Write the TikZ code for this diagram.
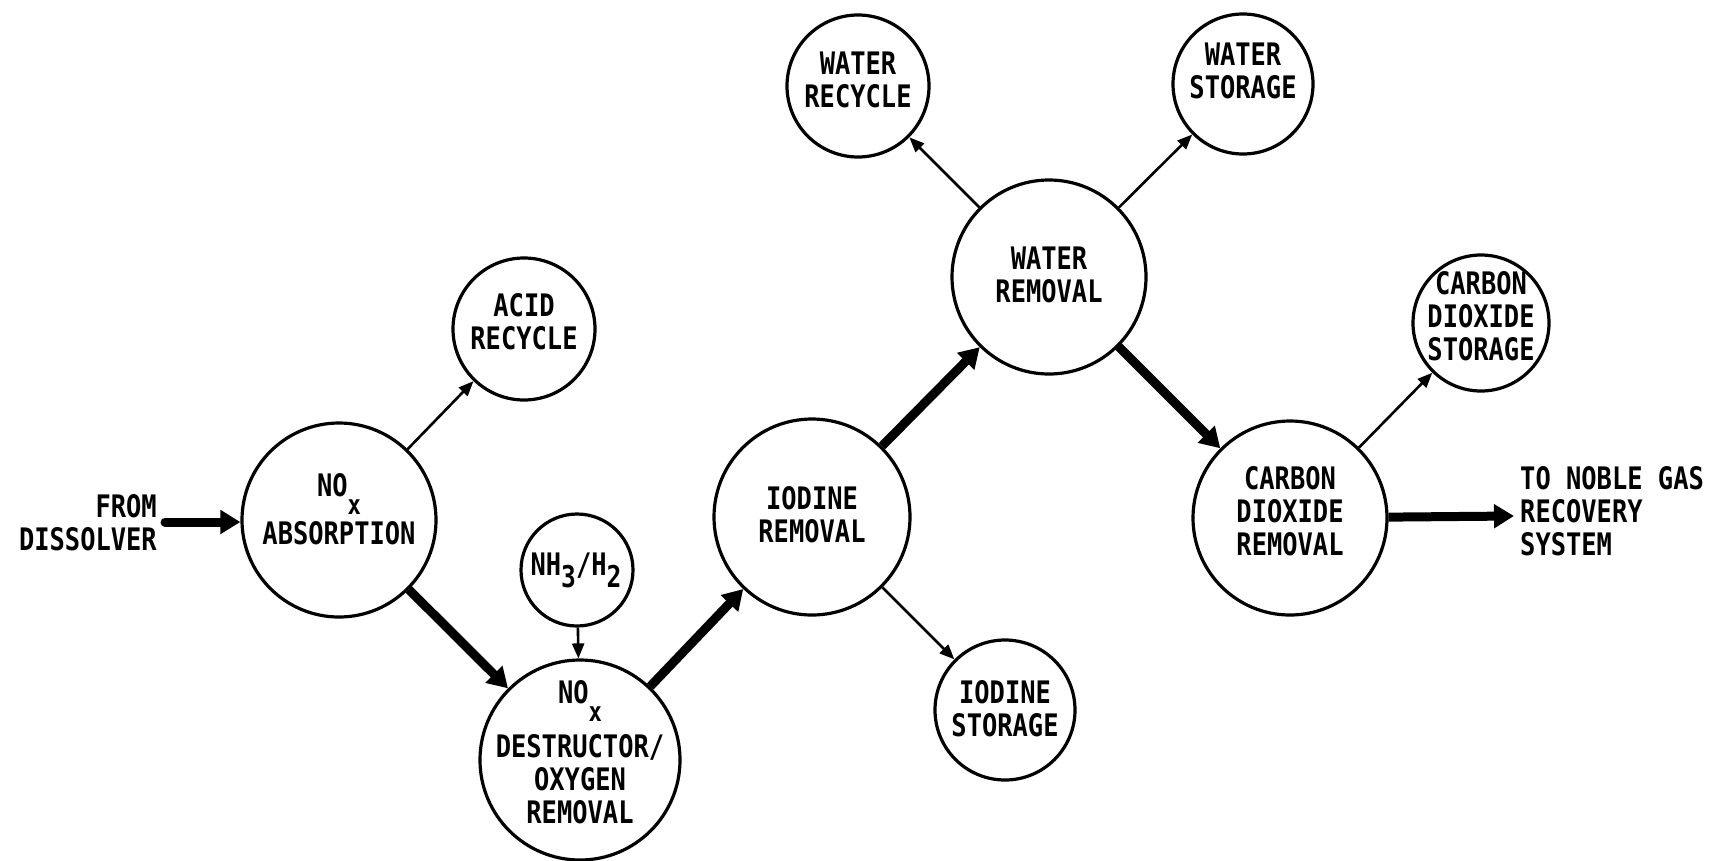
\documentclass[tikz,border=0pt]{standalone}
\usepackage{fontspec}
\newfontfamily\lblfont[FakeStretch=0.82]{DejaVu Sans Mono}
\usetikzlibrary{arrows.meta}
\tikzset{
  proc/.style={circle,draw,line width=3.2pt,inner sep=0pt,minimum size=#1},
  lbl/.style={font=\lblfont\bfseries\fontsize{31}{33}\selectfont,align=center,inner sep=0pt},
  flowthin/.style={line width=2.6pt,-{Triangle[length=15pt,width=12pt]}},
  flowthick/.style={line width=9pt,-{Triangle[length=20pt,width=23pt]}},
}
\newcommand{\subx}{\smash{\raisebox{-18pt}{\fontsize{27}{27}\selectfont x}}}
\newcommand{\subd}[1]{\smash{\raisebox{-12pt}{\fontsize{30}{30}\selectfont #1}}}
\begin{document}
\begin{tikzpicture}[x=1pt,y=-1pt]
\useasboundingbox (0,0) rectangle (1713,860);
% circles
\node[proc=194] (abs) at (339,520) {};
\node[proc=142] (acid) at (524,329) {};
\node[proc=112] (nh3) at (577,570) {};
\node[proc=200] (des) at (580,760) {};
\node[proc=196] (iod) at (812,517) {};
\node[proc=140] (iodst) at (1005,710) {};
\node[proc=194] (wrem) at (1049,277) {};
\node[proc=142] (wrec) at (858,86) {};
\node[proc=140] (wst) at (1243,84) {};
\node[proc=194] (co2) at (1290,518) {};
\node[proc=136] (co2st) at (1481,323) {};
% labels
\node[lbl] (tabs) at (339,509) {NO\subx\\[15pt]ABSORPTION};
\node[lbl] (tacid) at (524,321.5) {ACID\\RECYCLE};
\node[lbl] (tnh3) at (576,566) {NH\subd{3}/H\subd{2}};
\node[lbl] (tdes) at (580,752) {NO\subx\\[21pt]DESTRUCTOR/\\OXYGEN\\REMOVAL};
\node[lbl] (tiod) at (812,515) {IODINE\\REMOVAL};
\node[lbl] (tiodst) at (1005,709) {IODINE\\STORAGE};
\node[lbl] (twrem) at (1049,275) {WATER\\REMOVAL};
\node[lbl] (twrec) at (858,80) {WATER\\RECYCLE};
\node[lbl] (twst) at (1243,71) {WATER\\STORAGE};
\node[lbl] (tco2) at (1290,511.5) {CARBON\\DIOXIDE\\REMOVAL};
\node[lbl] (tco2st) at (1481,316.5) {CARBON\\DIOXIDE\\STORAGE};
\node[lbl,anchor=east,align=right] (tfrom) at (157,522.5) {FROM\\DISSOLVER};
\node[lbl,anchor=west,align=left] (tnoble) at (1520,511.5) {TO NOBLE GAS\\RECOVERY\\SYSTEM};
% free ends
\coordinate (fromtail) at (165,522);
\coordinate (noblehead) at (1514,516);
% connectors
\draw[flowthick,line cap=round] (fromtail) -- (fromtail -| abs.west);
\draw[flowthin] (abs) -- (acid);
\draw[flowthick] (abs) -- (des);
\draw[flowthin] (nh3) -- (des);
\draw[flowthick] (des) -- (iod);
\draw[flowthin] (iod) -- (iodst);
\draw[flowthick] (iod) -- (wrem);
\draw[flowthin] (wrem) -- (wrec);
\draw[flowthin] (wrem) -- (wst);
\draw[flowthick] (wrem) -- (co2);
\draw[flowthin] (co2) -- (co2st);
\draw[flowthick] (co2) -- (noblehead);
\end{tikzpicture}
\end{document}
